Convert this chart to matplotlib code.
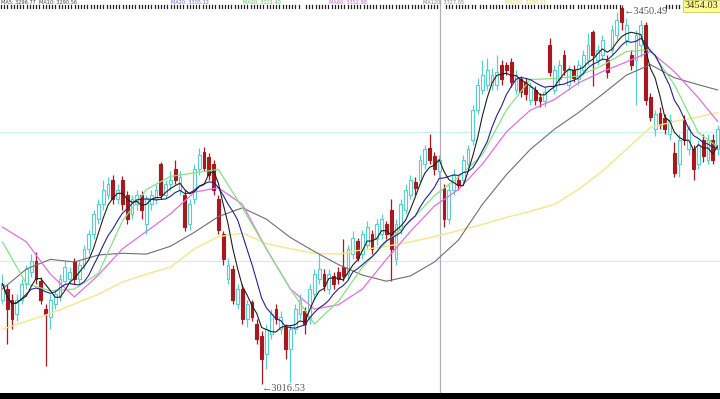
import matplotlib
matplotlib.use("Agg")
import matplotlib.pyplot as plt
from matplotlib.patches import Rectangle
from matplotlib.lines import Line2D
import pandas as pd

# ---------------- data ----------------
opens = [3113, 3125, 3113, 3096, 3113, 3131, 3145, 3157, 3134, 3102,
         3093, 3108, 3116, 3134, 3136, 3157, 3136, 3153, 3171, 3188,
         3205, 3222, 3233, 3250, 3228, 3250, 3233, 3211, 3222, 3233,
         3199, 3222, 3228, 3268, 3233, 3245, 3262, 3239, 3233, 3199,
         3228, 3262, 3282, 3276, 3268, 3228, 3188, 3136, 3148, 3108,
         3125, 3091, 3110, 3085, 3071, 3051, 3073, 3102, 3079, 3081,
         3056, 3079, 3096, 3100, 3091, 3119, 3136, 3142, 3125, 3140,
         3145, 3150, 3142, 3165, 3180, 3165, 3176, 3188, 3182, 3188,
         3199, 3216, 3159, 3193, 3216, 3233, 3248, 3250, 3268, 3287,
         3277, 3260, 3241, 3205, 3239, 3250, 3250, 3268, 3296, 3330,
         3353, 3359, 3359, 3359, 3382, 3381, 3385, 3353, 3365, 3362,
         3342, 3353, 3345, 3340, 3405, 3353, 3365, 3393, 3359, 3376,
         3365, 3376, 3387, 3419, 3387, 3393, 3387, 3399, 3416, 3447,
         3410, 3393, 3387, 3405, 3427, 3345, 3308, 3327, 3321, 3302,
         3281, 3268, 3319, 3285, 3285, 3268, 3296, 3273, 3296, 3285]
closes = [3131, 3102, 3091, 3113, 3131, 3148, 3157, 3136, 3113, 3097,
          3113, 3119, 3136, 3150, 3145, 3136, 3153, 3171, 3188, 3211,
          3222, 3239, 3245, 3228, 3239, 3222, 3205, 3228, 3233, 3216,
          3228, 3233, 3239, 3233, 3245, 3250, 3250, 3253, 3196, 3222,
          3262, 3279, 3264, 3256, 3239, 3193, 3159, 3153, 3113, 3125,
          3091, 3108, 3093, 3068, 3045, 3079, 3096, 3091, 3093, 3056,
          3079, 3102, 3113, 3085, 3125, 3142, 3148, 3128, 3142, 3131,
          3136, 3140, 3171, 3184, 3161, 3188, 3196, 3171, 3199, 3205,
          3188, 3171, 3199, 3222, 3239, 3250, 3241, 3273, 3285, 3273,
          3262, 3273, 3205, 3239, 3256, 3244, 3273, 3285, 3330, 3359,
          3370, 3376, 3370, 3374, 3365, 3376, 3362, 3370, 3351, 3348,
          3356, 3342, 3340, 3351, 3374, 3376, 3382, 3376, 3376, 3367,
          3382, 3393, 3405, 3393, 3399, 3410, 3374, 3422, 3433, 3431,
          3427, 3382, 3416, 3427, 3342, 3322, 3325, 3313, 3308, 3319,
          3258, 3296, 3296, 3308, 3262, 3290, 3277, 3296, 3273, 3308]
highs = [3142, 3131, 3119, 3119, 3136, 3153, 3165, 3168, 3139, 3108,
         3119, 3125, 3142, 3157, 3150, 3161, 3157, 3176, 3193, 3216,
         3228, 3250, 3253, 3256, 3245, 3254, 3237, 3233, 3239, 3237,
         3233, 3239, 3245, 3271, 3250, 3260, 3273, 3260, 3239, 3228,
         3268, 3287, 3288, 3281, 3273, 3233, 3191, 3161, 3153, 3131,
         3131, 3113, 3113, 3091, 3077, 3085, 3102, 3108, 3100, 3085,
         3085, 3108, 3119, 3104, 3131, 3148, 3165, 3148, 3148, 3145,
         3150, 3182, 3176, 3191, 3184, 3193, 3203, 3193, 3205, 3211,
         3203, 3228, 3205, 3228, 3245, 3256, 3253, 3279, 3290, 3303,
         3282, 3279, 3245, 3245, 3262, 3256, 3279, 3290, 3336, 3367,
         3387, 3390, 3378, 3393, 3387, 3385, 3390, 3376, 3369, 3367,
         3362, 3358, 3349, 3356, 3413, 3382, 3387, 3399, 3382, 3382,
         3387, 3399, 3418, 3422, 3405, 3416, 3393, 3427, 3442, 3450.49,
         3435, 3399, 3422, 3433, 3431, 3349, 3330, 3333, 3325, 3325,
         3293, 3302, 3324, 3313, 3290, 3296, 3302, 3302, 3302, 3313]
lows = [3108, 3062, 3079, 3088, 3108, 3125, 3139, 3131, 3108, 3037,
        3079, 3102, 3111, 3131, 3131, 3131, 3131, 3148, 3165, 3182,
        3199, 3216, 3228, 3222, 3222, 3216, 3199, 3205, 3216, 3205,
        3188, 3216, 3222, 3228, 3228, 3239, 3245, 3233, 3191, 3193,
        3222, 3256, 3260, 3250, 3233, 3188, 3153, 3131, 3108, 3102,
        3085, 3081, 3088, 3062, 3016.53, 3033, 3068, 3085, 3073, 3045,
        3019, 3073, 3091, 3073, 3085, 3113, 3131, 3123, 3119, 3125,
        3131, 3134, 3136, 3159, 3157, 3159, 3171, 3165, 3176, 3182,
        3182, 3134, 3153, 3188, 3211, 3228, 3233, 3245, 3262, 3268,
        3256, 3253, 3196, 3199, 3233, 3239, 3245, 3262, 3290, 3325,
        3348, 3353, 3353, 3353, 3359, 3370, 3356, 3348, 3345, 3342,
        3336, 3336, 3333, 3333, 3369, 3348, 3359, 3370, 3353, 3362,
        3359, 3370, 3382, 3357, 3382, 3387, 3367, 3393, 3410, 3422,
        3405, 3376, 3336, 3391, 3336, 3317, 3300, 3308, 3302, 3296,
        3253, 3253, 3290, 3279, 3250, 3262, 3271, 3268, 3268, 3279]

# long moving averages, read every 5th bar
ma_idx = [0, 5, 10, 15, 20, 25, 30, 35, 40, 45, 50, 55, 60, 65, 70, 75,
          80, 85, 90, 95, 100, 105, 110, 115, 120, 125, 130, 135, 140, 145, 149]
ma20 = [3179, 3131, 3123, 3125, 3143, 3203, 3239, 3254, 3258, 3262, 3218,
        3171, 3125, 3085, 3111, 3150, 3179, 3203, 3232, 3253, 3279, 3330,
        3365, 3366, 3369, 3381, 3397, 3399, 3359, 3304, 3288]
ma30 = [3196, 3179, 3142, 3116, 3141, 3171, 3191, 3211, 3236, 3241, 3222,
        3171, 3125, 3102, 3107, 3125, 3159, 3191, 3220, 3239, 3268, 3305,
        3330, 3342, 3361, 3374, 3385, 3397, 3374, 3344, 3317]
ma60 = [3125, 3148, 3159, 3156, 3164, 3166, 3165, 3174, 3190, 3208, 3218,
        3205, 3184, 3168, 3153, 3141, 3134, 3140, 3156, 3181, 3222, 3256,
        3285, 3308, 3327, 3348, 3370, 3382, 3367, 3359, 3353]
ma120 = [3079, 3088, 3097, 3108, 3119, 3133, 3142, 3150, 3171, 3185, 3189,
         3177, 3171, 3166, 3165, 3170, 3174, 3179, 3185, 3192, 3199, 3207,
         3214, 3222, 3239, 3260, 3285, 3310, 3317, 3322, 3327]

grid_levels = [3305, 3157]
high_label = "\u2190" + "3450.49"
low_label = "\u2190" + "3016.53"
last_label = "3454.03"
header = [("MA5: 3296.77  MA10: 3290.56", "#404040"),
          ("MA20: 3305.12", "#7070c0"),
          ("MA30: 3321.40", "#60c060"),
          ("MA60: 3352.88", "#d060d0"),
          ("MA120: 3327.05", "#808080"),
          ("MA250: 3190.21", "#e0d060")]

# ---------------- drawing ----------------
UP = "#55d0d2"
DOWN = "#a8181c"
W, H = 720, 399
LBL_FONT = ["Liberation Serif", "DejaVu Serif"]

fig = plt.figure(figsize=(7.2, 3.99), dpi=100)
ax = fig.add_axes([0, 0, 1, 1])
n = len(closes)
ax.set_xlim(-0.5, n - 0.5)
ax.set_ylim(2999.1, 3456)
ax.axis("off")

for lv in grid_levels:
    ax.axhline(lv, color="#cdeff0", lw=0.8, zorder=0)

ax.axvline(91.17, color="#b0b0b0", lw=0.9, zorder=1)

w = 0.62
for i in range(n):
    o, c, h, l = opens[i], closes[i], highs[i], lows[i]
    up = c >= o
    col = UP if up else DOWN
    ax.vlines(i, l, h, color=col, lw=0.9, zorder=2)
    bottom = min(o, c)
    height = max(abs(c - o), 0.8)
    ax.add_patch(Rectangle((i - w / 2, bottom), w, height,
                           facecolor="white" if up else DOWN,
                           edgecolor=col, lw=0.8, zorder=3))

s = pd.Series(closes)
ma5 = s.rolling(5, min_periods=1).mean()
ma10 = s.rolling(10, min_periods=1).mean()
xs = list(range(n))

ax.plot(ma_idx, ma120, color="#f3e78a", lw=1.0, zorder=4)
ax.plot(ma_idx, ma60, color="#6e6e6e", lw=0.8, zorder=4)
ax.plot(ma_idx, ma30, color="#e070e0", lw=0.9, zorder=4)
ax.plot(ma_idx, ma20, color="#86e086", lw=0.9, zorder=4)
ax.plot(xs, ma10, color="#23238e", lw=0.8, zorder=5)
ax.plot(xs, ma5, color="#202020", lw=0.8, zorder=5)

# annotations
ax.text(129.4, 3443, high_label, fontsize=7.5, color="#555555",
        family=LBL_FONT, va="center", ha="left", zorder=6)
ax.text(54.1, 3011, low_label, fontsize=7.5, color="#555555",
        family=LBL_FONT, va="center", ha="left", zorder=6)

# bottom black bar
fig.patches.append(Rectangle((0, 0), 1, 6 / H, transform=fig.transFigure,
                             facecolor="black", edgecolor="none", zorder=10))

# top header strip
hx = [0.0, 0.235, 0.335, 0.455, 0.585, 0.70]
for xh, (t, c) in zip(hx, header):
    fig.text(xh + 0.002, 1.0, t, fontsize=3.6, color=c, va="top", ha="left")
# dense tick marks row below the header
segments = [(1, 300), (306, 440), (446, 476), (480, 574), (578, 620),
            (666, 679)]
for a, b in segments:
    xpix = a
    while xpix <= b:
        fig.lines.append(Line2D([xpix / W, xpix / W],
                                [1 - 4.5 / H, 1 - 8.0 / H],
                                transform=fig.transFigure, color="#202020",
                                lw=0.9))
        xpix += 3.2

fig.text(0.998, 1 - 1.2 / H, last_label, fontsize=7.5, color="#333333",
         family=LBL_FONT, va="top", ha="right",
         bbox=dict(boxstyle="square,pad=0.15", facecolor="#ffff90",
                   edgecolor="#c8c870", lw=0.6))

fig.savefig("out.png", dpi=100)
